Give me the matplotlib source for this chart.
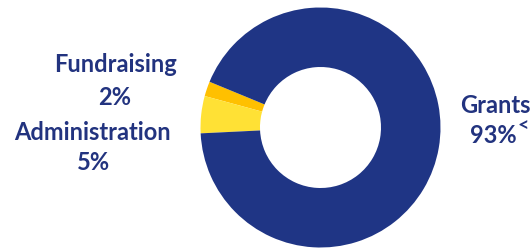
import matplotlib
matplotlib.use("Agg")
import matplotlib.pyplot as plt

labels = ["Fundraising", "Administration", "Grants"]
shares = [2, 5, 93]
colors = ["#FFC000", "#FFE135", "#1F3585"]
navy = "#22337F"

plt.rcParams['font.family'] = ['Lato', 'DejaVu Sans']

fig = plt.figure(figsize=(5.30, 2.49), dpi=100)
ax = fig.add_axes([0, 0, 1, 1])

# start at the top edge of the fundraising slice, go counter-clockwise
ax.pie(shares, colors=colors, startangle=157.6, counterclock=True,
       center=(320.5, 249 - 127.5), radius=120,
       wedgeprops=dict(width=59.5, linewidth=0))
ax.set_xlim(0, 530)
ax.set_ylim(0, 249)
ax.set_aspect('equal')
ax.axis('off')

def lab(x, y, s, ha='center'):
    # y is the baseline, counted from the top in pixels
    ax.text(x, 249 - y, s, ha=ha, va='baseline', color=navy,
            fontsize=17, fontweight='bold')

lab(116, 72, labels[0])
lab(115, 105, f"{shares[0]}%")
lab(92, 140, labels[1])
lab(93, 170, f"{shares[1]}%")
lab(460, 113, labels[2], ha='left')
lab(470, 143, f"{shares[2]}%", ha='left')
ax.text(529, 249 - 126, "<", ha='right', va='center', color=navy,
        fontsize=14, fontweight='bold')

fig.savefig("out.png", dpi=100)
